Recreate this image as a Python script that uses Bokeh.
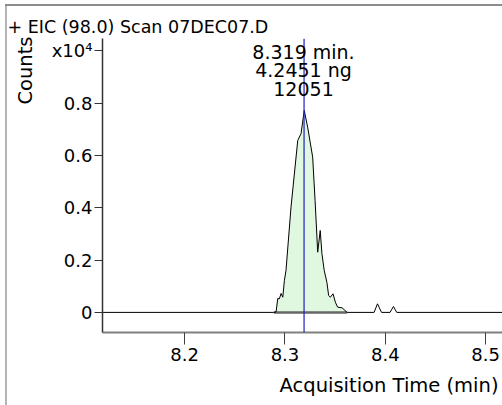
import numpy as np
from bokeh.plotting import figure
from bokeh.models import Label, Span, FixedTicker, ColumnDataSource, Title
from bokeh.embed import file_html
from bokeh.resources import INLINE

# ---------------- data ----------------
title_text = "+ EIC (98.0) Scan 07DEC07.D"
x_label = "Acquisition Time (min)"
y_label = "Counts"
x_ticks = [8.2, 8.3, 8.4, 8.5]
y_ticks = [0, 2000, 4000, 6000, 8000, 10000]
y_tick_labels = ["0", "0.2", "0.4", "0.6", "0.8", "x10\u2074"]

time_min = [8.100, 8.2888, 8.2911, 8.2928, 8.2944, 8.2961, 8.2978, 8.2994, 8.3010,
            8.3060, 8.3127, 8.3160, 8.3192, 8.3226, 8.3276, 8.3300, 8.3326, 8.3351,
            8.3368, 8.3391, 8.3418, 8.3435, 8.3452, 8.3479, 8.3502, 8.3525, 8.3569,
            8.3619, 8.3888, 8.3922, 8.3962, 8.4047, 8.4081, 8.4114, 8.530]
counts = [0, 0, 15, 532, 520, 723, 582, 1220, 1603,
          4025, 6577, 6840, 7725, 7086, 5938, 4281, 2303, 3133,
          2254, 1603, 1144, 647, 582, 712, 390, 199, 176,
          0, 0, 329, 0, 0, 226, 0, 0]
integ_start = 8.2888
integ_end = 8.3619
rt_min = 8.319
peak_labels = ["8.319 min.", "4.2451 ng", "12051"]

# ---------------- layout ----------------
FONT = "DejaVu Sans"
FS = "18px"
W, H = 502, 405
FRAME_L, FRAME_R, FRAME_T, FRAME_B = 101, 502, 38, 332   # page px
X0, X1 = 8.1181, 8.5168
Y0, Y1 = -769, 10478

def px_x(px):
    return X0 + (px - FRAME_L) / (FRAME_R - FRAME_L) * (X1 - X0)

def px_y(py):
    return Y0 + (FRAME_B - py) / (FRAME_B - FRAME_T) * (Y1 - Y0)

p = figure(width=W, height=H, x_range=(X0, X1), y_range=(Y0, Y1),
           output_backend="svg", toolbar_location=None,
           min_border_left=FRAME_L, min_border_right=W - FRAME_R,
           min_border_top=FRAME_T, min_border_bottom=H - FRAME_B)
p.grid.visible = False
p.outline_line_color = None
p.border_fill_color = None
p.background_fill_color = "white"
p.styles = {"background": "linear-gradient(#8c8c8c,#8c8c8c) 5px 4px / 100% 2px no-repeat, "
                          "linear-gradient(#b4b4b4,#b4b4b4) 5px 4px / 2px 100% no-repeat, #ffffff"}

# title (top-left)
p.title.text = title_text
p.title.align = "left"
p.title.offset = 7 - FRAME_L - 1
p.title.standoff = 4
p.title.text_font = FONT
p.title.text_font_size = "17.5px"
p.title.text_font_style = "normal"
p.title.text_color = "black"

# x-axis
xa = p.xaxis[0]
xa.ticker = FixedTicker(ticks=x_ticks)
xa.major_tick_out = 12
xa.major_tick_in = 0
xa.minor_tick_out = 0
xa.minor_tick_in = 0
xa.axis_line_color = "#808080"
xa.axis_line_width = 2
xa.major_tick_line_color = "#404040"
xa.major_label_text_font = FONT
xa.major_label_text_font_size = FS
xa.major_label_text_color = "black"
xa.major_label_standoff = 3

# y-axis
ya = p.yaxis[0]
ya.ticker = FixedTicker(ticks=y_ticks)
ya.major_label_overrides = {t: s for t, s in zip(y_ticks, y_tick_labels)}
ya.major_tick_out = 8
ya.major_tick_in = 0
ya.minor_tick_out = 0
ya.minor_tick_in = 0
ya.axis_line_color = "#333333"
ya.axis_line_width = 1.5
ya.major_tick_line_color = "#333333"
ya.major_label_text_font = FONT
ya.major_label_text_font_size = FS
ya.major_label_text_color = "black"
ya.major_label_standoff = 2

# axis titles as side titles (placed at ends like the original)
p.add_layout(Title(text=x_label, align="right", offset=4, standoff=17,
                   text_font=FONT, text_font_size="19.5px", text_font_style="normal",
                   text_color="black"), "below")
p.add_layout(Title(text=y_label, align="right", offset=-2, standoff=23,
                   text_font=FONT, text_font_size="19.5px", text_font_style="normal",
                   text_color="black"), "left")

t = np.array(time_min)
c = np.array(counts, dtype=float)
mask = (t >= integ_start) & (t <= integ_end)

p.varea(x=t[mask], y1=np.zeros(mask.sum()), y2=c[mask], fill_color="#e0f7e0")
p.line([integ_start, integ_end], [0, 0], line_color="#666666", line_width=2.5)
src = ColumnDataSource(dict(t=time_min, c=counts))
p.line("t", "c", source=src, line_color="black", line_width=1)
p.add_layout(Span(location=rt_min, dimension="height", line_color="#2020c0", line_width=1.2))

for txt, py in zip(peak_labels, [51.5, 69.5, 88]):
    p.add_layout(Label(x=px_x(302.5), y=px_y(py), text=txt, text_font=FONT,
                       text_font_size="19px", text_color="black", text_align="center",
                       text_baseline="alphabetic"))

open("out.html", "w").write(file_html(p, INLINE))
